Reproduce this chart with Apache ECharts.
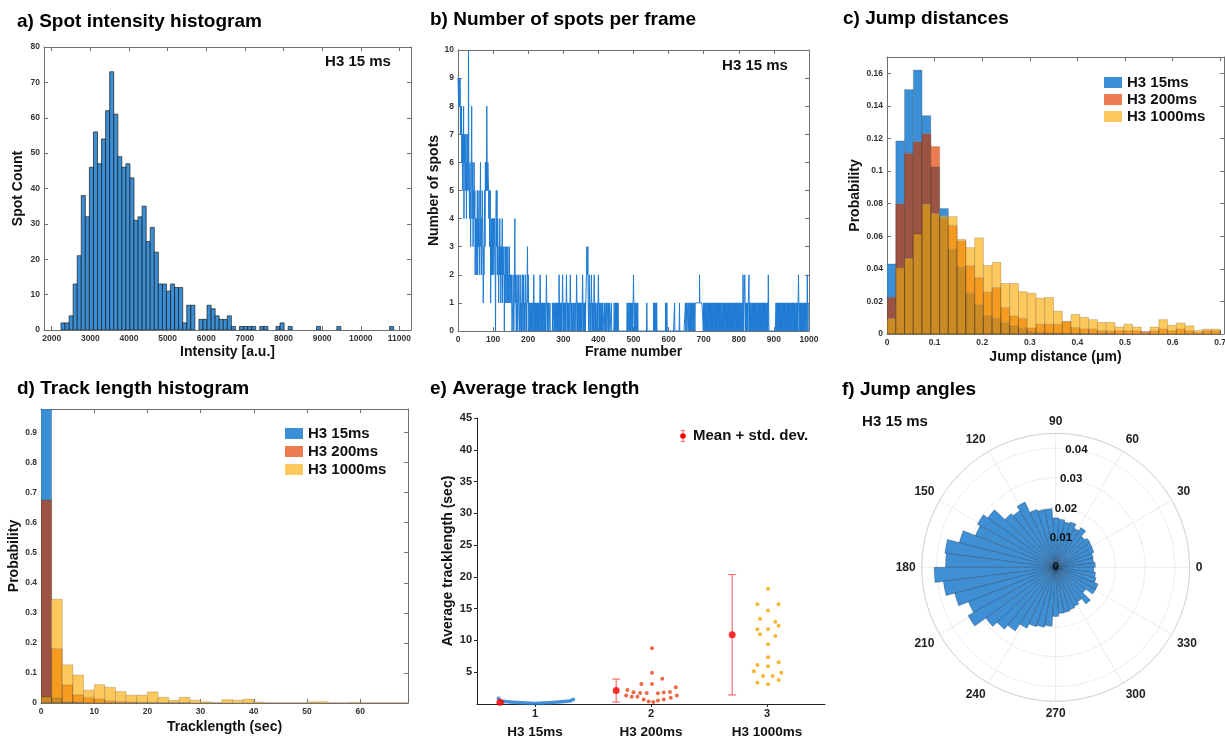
<!DOCTYPE html>
<html>
<head>
<meta charset="utf-8">
<script src="https://cdn.jsdelivr.net/npm/echarts@6/dist/echarts.min.js"></script>
<style>
  html, body { margin: 0; padding: 0; background: #fff; }
  #main { width: 1225px; height: 741px; }
</style>
</head>
<body>
<div id="main"></div>
<script>
// a) spot intensity histogram (bins start at 2240, 105 wide)
const intensityStart = 2240
const intensityBin = 105
const intensityCounts = [
  2, 2, 4, 13, 21, 38, 32, 46, 56, 47,
  54, 62, 73, 61, 49, 46, 47, 43, 31, 32,
  35, 25, 29, 22, 13, 13, 11, 13, 12, 12,
  2, 7, 7, 0, 3, 3, 7, 6, 4, 3,
  3, 4, 1, 0, 1, 1, 1, 1, 0, 1,
  1, 0, 0, 1, 2, 0, 1, 0, 0, 0,
  0, 0, 0, 1, 0, 0, 0, 0, 1, 0,
  0, 0, 0, 0, 0, 0, 0, 0, 0, 0,
  0, 1
]
const intensityTicks = [2000, 3000, 4000, 5000, 6000, 7000, 8000, 9000, 10000, 11000]

// b) number of spots per frame, frames 0..999
const spotsPerFrame = [
  9,9,8,9,9,8,9,7,8,7, 8,6,7,5,7,6,8,4,7,6, 7,5,6,7,4,6,5,7,6,5, 10,6,5,4,6,5,3,5,6,8, 4,5,6,3,5,4,6,4,5,2,
  4,3,2,4,3,5,2,4,3,4, 5,3,2,4,6,3,4,2,3,5, 4,3,1,3,2,4,5,3,6,5, 6,5,8,6,5,6,6,5,4,5, 3,4,5,1,3,2,4,3,2,4,
  3,4,2,3,4,3,2,0,4,5, 3,5,2,4,3,2,1,3,2,4, 2,3,1,2,3,2,4,1,3,2, 2,3,0,2,1,3,2,1,3,2, 1,2,3,1,2,1,3,2,1,2,
  2,1,2,1,0,0,1,2,1,0, 1,2,4,1,2,1,0,1,2,1, 0,1,2,1,1,0,1,2,1,0, 1,0,1,2,1,0,1,2,0,1, 0,1,2,1,0,1,0,2,3,1,
  2,1,0,1,0,1,1,0,1,0, 1,0,1,1,0,1,2,0,1,0, 1,0,1,0,1,1,0,1,0,1, 0,1,0,1,2,1,0,1,0,1, 0,1,0,0,1,0,1,0,1,0,
  0,1,2,1,0,1,0,0,1,0, 0,0,1,0,0,0,0,0,0,1, 0,0,0,1,0,1,0,1,1,0, 1,0,1,0,1,0,1,0,2,1, 0,1,0,1,0,1,0,1,2,1,
  0,1,0,1,1,0,1,0,1,2, 1,0,1,0,1,0,1,0,0,1, 2,1,0,1,0,1,0,0,0,1, 0,1,0,0,0,1,0,0,2,1, 0,1,0,1,1,0,1,0,1,0,
  1,0,1,0,1,2,1,0,1,0, 1,0,1,0,1,1,2,3,3,2, 3,1,0,1,2,1,0,1,0,1, 2,1,0,1,0,1,0,1,2,1, 0,1,0,1,0,0,0,1,0,1,
  2,1,0,1,0,1,0,0,1,0, 1,0,1,0,0,0,0,1,0,1, 1,0,0,1,0,0,0,1,0,1, 0,0,1,0,0,0,0,1,0,0, 0,0,0,0,0,1,0,0,1,0,
  1,0,1,0,1,0,1,0,0,0, 0,0,0,0,0,0,0,0,0,0, 0,0,0,0,0,0,0,0,0,0, 0,0,1,0,1,0,0,1,1,0, 1,0,1,0,1,1,0,1,0,1,
  2,1,1,0,1,0,1,1,0,1, 1,0,1,0,0,0,0,0,0,0, 0,0,0,0,0,0,0,0,0,0, 0,0,0,0,0,0,0,0,1,0, 0,0,0,0,0,0,0,0,0,0,
  0,0,0,0,0,0,0,1,0,1, 0,1,0,0,1,0,1,0,0,0, 0,0,0,0,0,0,0,0,0,0, 0,0,0,0,0,0,0,0,0,0, 0,1,0,1,0,1,0,0,0,0,
  0,0,0,0,0,0,0,0,0,0, 0,0,0,0,0,0,0,1,0,0, 0,0,0,0,0,0,0,0,0,0, 0,1,0,0,0,0,0,0,0,0, 0,0,0,0,0,0,0,0,1,0,
  0,1,0,0,0,1,0,0,1,0, 0,1,0,1,0,0,1,0,1,0, 1,1,0,1,1,0,1,1,1,1, 1,1,1,1,1,1,1,1,2,1, 1,1,1,1,1,1,1,1,1,0,
  1,0,1,0,1,1,0,1,0,1, 1,0,1,0,1,0,1,1,0,1, 0,1,0,1,1,0,1,0,1,0, 1,1,0,1,0,1,0,1,1,0, 1,0,1,1,0,1,0,1,0,1,
  1,0,1,1,0,1,0,1,0,1, 1,0,1,0,1,1,0,1,0,1, 0,1,1,0,1,0,1,0,1,1, 0,1,0,1,0,1,1,0,1,0, 1,1,0,1,0,1,0,1,1,0,
  1,0,1,0,1,1,0,1,0,1, 1,0,2,1,0,1,1,2,1,0, 1,0,1,1,0,1,0,1,1,2, 0,1,0,1,0,1,1,0,1,0, 1,0,1,1,0,1,0,1,0,1,
  1,0,1,0,1,1,0,1,0,1, 0,1,0,1,1,0,1,0,1,0, 1,1,0,1,0,1,0,1,1,0, 1,0,1,0,2,1,0,0,0,0, 0,0,0,0,0,0,0,0,0,0,
  0,0,0,0,0,0,1,0,1,1, 0,1,0,1,1,0,1,0,1,0, 1,1,0,1,0,1,0,1,1,0, 1,0,1,0,1,1,0,1,0,1, 1,0,1,0,1,0,1,1,0,1,
  0,1,0,1,1,0,1,0,1,0, 1,1,0,1,0,1,0,1,0,1, 2,1,0,1,1,0,1,0,1,0, 1,1,0,1,0,1,0,1,1,0, 1,0,1,1,0,2,1,0,1,1
]

// c) jump distances, 38 bins over 0..0.7 um
const seriesNames = ['H3 15ms', 'H3 200ms', 'H3 1000ms']
const jumpMax = 0.7
const jump15 = [
  0.043, 0.1185, 0.150, 0.162, 0.134, 0.1025, 0.077, 0.052, 0.041, 0.025,
  0.018, 0.011, 0.0096, 0.007, 0.005, 0.0035, 0.0016, 0.001, 0.0006, 0.0005,
  0.0005, 0.0004, 0.0003, 0.0003, 0.0002, 0.0002, 0, 0, 0, 0,
  0, 0, 0, 0, 0, 0, 0, 0
]
const jump200 = [
  0.0226, 0.080, 0.111, 0.118, 0.123, 0.115, 0.071, 0.0667, 0.057, 0.042,
  0.0345, 0.0257, 0.0285, 0.0163, 0.011, 0.0096, 0.0037, 0.006, 0.006, 0.006,
  0.0075, 0.004, 0.003, 0.003, 0.002, 0.002, 0.002, 0.002, 0.002, 0.0015,
  0.002, 0.003, 0.002, 0.003, 0.002, 0.001, 0.002, 0.002
]
const jump1000 = [
  0.0096, 0.0406, 0.0465, 0.0614, 0.0797, 0.074, 0.0726, 0.072, 0.058, 0.053,
  0.059, 0.042, 0.044, 0.031, 0.031, 0.026, 0.025, 0.022, 0.0224, 0.014,
  0.0078, 0.012, 0.0102, 0.0088, 0.0071, 0.0071, 0.0043, 0.006, 0.0043, 0.0008,
  0.0043, 0.0088, 0.0053, 0.0067, 0.005, 0.0022, 0.003, 0.003
]

// d) track length histogram, 2 s bins
const trackBin = 2
const track15 = [
  0.978, 0.017, 0.005, 0.002, 0, 0, 0, 0, 0, 0,
  0, 0, 0, 0, 0, 0, 0, 0, 0, 0,
  0, 0, 0, 0, 0, 0, 0, 0, 0, 0,
  0, 0, 0, 0, 0
]
const track200 = [
  0.675, 0.181, 0.06, 0.027, 0.019, 0.013, 0.008, 0.005, 0.003, 0.002,
  0.002, 0.001, 0.001, 0.001, 0, 0, 0, 0, 0, 0,
  0, 0, 0, 0, 0, 0, 0, 0, 0, 0,
  0, 0, 0, 0, 0
]
const track1000 = [
  0.02, 0.345, 0.127, 0.093, 0.043, 0.061, 0.052, 0.038, 0.026, 0.026,
  0.037, 0.019, 0.009, 0.019, 0.009, 0.004, 0.002, 0.011, 0.009, 0.013,
  0.003, 0.001, 0.001, 0.001, 0.001, 0.004, 0.004, 0.001, 0.001, 0.002,
  0.001, 0.001, 0.001, 0.001, 0.001
]

// e) average track length per cell, [x, y]
const avg15 = [
  [0.686, 0.85], [0.714, 0.45], [0.74, 0.40], [0.766, 0.35], [0.791, 0.30], [0.817, 0.28],
  [0.843, 0.25], [0.869, 0.20], [0.894, 0.18], [0.92, 0.15], [0.946, 0.12], [0.971, 0.10],
  [0.997, 0.08], [1.023, 0.10], [1.049, 0.12], [1.074, 0.15], [1.1, 0.18], [1.126, 0.20],
  [1.151, 0.25], [1.177, 0.28], [1.203, 0.30], [1.229, 0.35], [1.254, 0.40], [1.28, 0.45],
  [1.306, 0.50], [1.329, 0.70]
]
const avg200 = [
  [2.009, 8.77], [2.009, 4.93], [2.097, 3.99], [1.917, 3.15], [2.009, 3.15], [2.214, 2.62],
  [1.797, 2.20], [1.849, 1.85], [1.906, 1.75], [1.963, 1.75], [2.06, 1.70], [2.11, 1.80],
  [2.163, 1.90], [1.786, 1.35], [1.834, 1.15], [1.883, 1.15], [2.223, 1.35], [2.17, 1.0],
  [1.937, 0.7], [2.11, 0.7], [2.06, 0.55], [1.98, 0.4], [2.02, 0.3]
]
const avg1000 = [
  [3.009, 18.15], [2.917, 15.7], [3.1, 15.7], [3.009, 14.7], [2.94, 13.4], [3.071, 12.96],
  [3.1, 12.3], [2.917, 11.75], [3.009, 11.75], [2.94, 10.97], [3.071, 10.7], [3.009, 9.4],
  [3.009, 7.35], [3.1, 6.56], [2.917, 6.14], [3.009, 5.93], [2.886, 5.14], [3.123, 4.93],
  [2.966, 4.4], [3.049, 4.4], [2.917, 3.36], [3.1, 3.78], [3.009, 3.1]
]
const groupMean = [0.26, 2.12, 10.9]
const groupStd = [0.15, 1.8, 9.47]
const groupTicks = [1, 2, 3]

// f) jump angles, 50 bins of 7.2 degrees, counter-clockwise from 0
const angleCounts = [
  0.0133, 0.0128, 0.013, 0.0138, 0.014, 0.0143, 0.0135, 0.0158, 0.0145, 0.016,
  0.0155, 0.0162, 0.0166, 0.0197, 0.0198, 0.0204, 0.0242, 0.0225, 0.0234, 0.0282,
  0.030, 0.029, 0.0334, 0.0375, 0.037, 0.0408, 0.038, 0.035, 0.0315, 0.0336,
  0.029, 0.027, 0.0253, 0.0226, 0.021, 0.0205, 0.0198, 0.0165, 0.0155, 0.0154,
  0.015, 0.0145, 0.0137, 0.016, 0.0125, 0.0153, 0.0153, 0.014, 0.0135, 0.0128
]

const font = 'Liberation Sans, Arial, Helvetica, sans-serif'
const tickLabel = { fontSize: 8.5, fontWeight: 'bold', color: '#333', fontFamily: font }
const axisName = { fontSize: 14, fontWeight: 'bold', color: '#111', fontFamily: font }
const boxColor = '#707070'
const legendColors = ['#3b8fd7', '#ec7c50', '#fdc95c']
// fill for each overlap mask (1 = 15ms, 2 = 200ms, 4 = 1000ms)
const overlapColors = {
  1: '#3b8fd7', 2: '#ec7c50', 3: '#9b5444', 4: '#fdc95c',
  5: '#a4a866', 6: '#f49b20', 7: '#cc8a24'
}
const meanOffset = -0.3

// label only the values that sit on the tick step (hides the odd axis end)
const stepLabel = step => v => {
  const k = v / step
  return Math.abs(k - Math.round(k)) < 1e-6 ? String(+v.toFixed(4)) : ''
}

function boxAxis(gridIndex, position, min, max, opts) {
  const mirror = position === 'top' || position === 'right'
  const ax = {
    type: 'value', gridIndex, position, min, max,
    axisLine: { show: true, onZero: false, lineStyle: { color: boxColor } },
    axisTick: { show: true, inside: true, length: 4, lineStyle: { color: boxColor } },
    axisLabel: Object.assign({ show: !mirror, margin: 4, formatter: v => String(v) }, tickLabel),
    splitLine: { show: false }
  }
  if (opts.interval) {
    ax.interval = opts.interval
    ax.axisLabel.formatter = stepLabel(opts.interval)
  }
  if (opts.ticks) {
    ax.axisTick.customValues = opts.ticks
    ax.axisLabel.customValues = opts.ticks
  }
  if (!mirror && opts.name) {
    ax.name = opts.name
    ax.nameLocation = 'middle'
    ax.nameGap = opts.nameGap
    ax.nameTextStyle = axisName
  }
  return ax
}

function histRows(start, width, counts) {
  return counts.map((c, i) => [start + i * width, start + (i + 1) * width, c])
}

function overlapRows(width, a, b, c) {
  return a.map((v, i) => [i * width, (i + 1) * width, v, b[i], c[i]])
}

function renderHist(params, api) {
  const n = api.value(2)
  if (!n) return
  const p0 = api.coord([api.value(0), n])
  const p1 = api.coord([api.value(1), 0])
  return {
    type: 'rect',
    shape: { x: p0[0], y: p0[1], width: p1[0] - p0[0], height: p1[1] - p0[1] },
    style: { fill: '#3a8ed5', stroke: '#1b1b1b', lineWidth: 0.7 }
  }
}

// draws three overlapping transparent histograms as flat overlap colours
function renderOverlap(params, api) {
  const x0 = api.value(0)
  const x1 = api.value(1)
  const vals = [api.value(2), api.value(3), api.value(4)]
  const levels = [0].concat(vals.filter(v => v > 0)).sort((p, q) => p - q)
  const children = []
  for (let i = 1; i < levels.length; i++) {
    const lo = levels[i - 1]
    const hi = levels[i]
    if (hi <= lo) continue
    let mask = 0
    vals.forEach((v, k) => { if (v >= hi) mask |= 1 << k })
    const p0 = api.coord([x0, hi])
    const p1 = api.coord([x1, lo])
    children.push({
      type: 'rect',
      shape: { x: p0[0], y: p0[1], width: p1[0] - p0[0], height: p1[1] - p0[1] },
      style: { fill: overlapColors[mask] }
    })
  }
  vals.forEach(v => {
    if (v <= 0) return
    const p0 = api.coord([x0, v])
    const p1 = api.coord([x1, 0])
    children.push({
      type: 'rect',
      shape: { x: p0[0], y: p0[1], width: p1[0] - p0[0], height: p1[1] - p0[1] },
      style: { fill: null, stroke: 'rgba(50,35,20,0.28)', lineWidth: 0.7 }
    })
  })
  return { type: 'group', children }
}

function renderErrorBar(params, api) {
  const x = api.value(0) + meanOffset
  const m = api.value(1)
  const s = api.value(2)
  const top = api.coord([x, m + s])
  const bot = api.coord([x, Math.max(m - s, 0)])
  const style = { stroke: 'rgba(245,70,70,0.7)', lineWidth: 1.3 }
  return {
    type: 'group',
    children: [
      { type: 'line', shape: { x1: top[0], y1: top[1], x2: bot[0], y2: bot[1] }, style },
      { type: 'line', shape: { x1: top[0] - 4, y1: top[1], x2: top[0] + 4, y2: top[1] }, style },
      { type: 'line', shape: { x1: bot[0] - 4, y1: bot[1], x2: bot[0] + 4, y2: bot[1] }, style }
    ]
  }
}

const legendSeries = (xi, yi) => seriesNames.map((name, i) => ({
  type: 'bar', name, xAxisIndex: xi, yAxisIndex: yi, data: [],
  itemStyle: { color: legendColors[i] }
}))

const titleStyle = { fontSize: 19, fontWeight: 'bold', color: '#000', fontFamily: font }
const mk = (text, left, top) => ({ text, left, top, padding: 0, textStyle: titleStyle })

const option = {
  animation: false,
  backgroundColor: '#fff',
  title: [
    mk('a) Spot intensity histogram', 17, 12),
    mk('b) Number of spots per frame', 430, 10),
    mk('c) Jump distances', 843, 9),
    mk('d) Track length histogram', 17, 379),
    mk('e) Average track length', 430, 379),
    mk('f) Jump angles', 842, 380)
  ],
  grid: [
    { left: 44, top: 47, width: 367, height: 283, outerBoundsMode: 'none' },
    { left: 458, top: 50, width: 351, height: 281, outerBoundsMode: 'none' },
    { left: 887, top: 57, width: 337, height: 277, outerBoundsMode: 'none' },
    { left: 41, top: 409, width: 367, height: 294, outerBoundsMode: 'none' },
    { left: 477, top: 418, width: 348, height: 286, outerBoundsMode: 'none' }
  ],
  xAxis: [
    boxAxis(0, 'bottom', 1800, 11300, { ticks: intensityTicks, name: 'Intensity [a.u.]', nameGap: 15 }),
    boxAxis(0, 'top', 1800, 11300, { ticks: intensityTicks }),
    boxAxis(1, 'bottom', 0, 1000, { interval: 100, name: 'Frame number', nameGap: 13 }),
    boxAxis(1, 'top', 0, 1000, { interval: 100 }),
    boxAxis(2, 'bottom', 0, 0.708, { interval: 0.1, name: 'Jump distance (μm)', nameGap: 16 }),
    boxAxis(2, 'top', 0, 0.708, { interval: 0.1 }),
    boxAxis(3, 'bottom', 0, 69, { interval: 10, name: 'Tracklength (sec)', nameGap: 17 }),
    boxAxis(3, 'top', 0, 69, { interval: 10 }),
    {
      type: 'value', gridIndex: 4, min: 0.5, max: 3.5,
      axisLine: { show: true, lineStyle: { color: '#222' } },
      axisTick: { show: true, length: 3, customValues: groupTicks, lineStyle: { color: '#222' } },
      axisLabel: {
        customValues: groupTicks, margin: 3,
        formatter: v => '{n|' + v + '}\n{c|' + seriesNames[v - 1] + '}',
        rich: {
          n: { fontSize: 11, fontWeight: 'bold', color: '#222', fontFamily: font, lineHeight: 14 },
          c: { fontSize: 13.5, fontWeight: 'bold', color: '#111', fontFamily: font, lineHeight: 22 }
        }
      },
      splitLine: { show: false }
    }
  ],
  yAxis: [
    boxAxis(0, 'left', 0, 80, { interval: 10, name: 'Spot Count', nameGap: 19 }),
    boxAxis(0, 'right', 0, 80, { interval: 10 }),
    boxAxis(1, 'left', 0, 10, { interval: 1, name: 'Number of spots', nameGap: 15 }),
    boxAxis(1, 'right', 0, 10, { interval: 1 }),
    boxAxis(2, 'left', 0, 0.17, { interval: 0.02, name: 'Probability', nameGap: 22 }),
    boxAxis(2, 'right', 0, 0.17, { interval: 0.02 }),
    boxAxis(3, 'left', 0, 0.978, { interval: 0.1, name: 'Probability', nameGap: 19 }),
    boxAxis(3, 'right', 0, 0.978, { interval: 0.1 }),
    {
      type: 'value', gridIndex: 4, min: 0, max: 45, interval: 5,
      name: 'Average tracklength (sec)', nameLocation: 'middle', nameGap: 22, nameTextStyle: axisName,
      axisLine: { show: true, lineStyle: { color: '#222' } },
      axisTick: { show: true, length: 3, lineStyle: { color: '#222' } },
      axisLabel: { showMinLabel: false, margin: 5, fontSize: 11, fontWeight: 'bold', color: '#222', fontFamily: font },
      splitLine: { show: false }
    }
  ],
  polar: [
    { center: [1055.7, 567.3], radius: 134 },
    { center: [1055.7, 567.3], radius: 134 },
    { center: [1055.7, 567.3], radius: 134 }
  ],
  angleAxis: [
    {
      polarIndex: 0, type: 'category', data: angleCounts.map((_, i) => String(i)),
      startAngle: 0, clockwise: false, boundaryGap: true,
      axisLine: { show: false }, axisTick: { show: false }, axisLabel: { show: false }, splitLine: { show: false }
    },
    {
      polarIndex: 1, type: 'value', min: 0, max: 360, interval: 30, startAngle: 0, clockwise: false, z: 1,
      axisLine: { show: true, lineStyle: { color: '#d4d4d4' } },
      axisTick: { show: false },
      axisLabel: {
        margin: 6, fontSize: 12, fontWeight: 'bold', color: '#222', fontFamily: font,
        formatter: v => (v === 360 ? '' : String(v))
      },
      splitLine: { show: true, lineStyle: { color: '#d8d8d8', type: 'dotted' } }
    },
    {
      polarIndex: 2, type: 'value', min: 0, max: 360, startAngle: 80, clockwise: false,
      axisLine: { show: false }, axisTick: { show: false }, axisLabel: { show: false }, splitLine: { show: false }
    }
  ],
  radiusAxis: [
    {
      polarIndex: 0, min: 0, max: 0.045,
      axisLine: { show: false }, axisTick: { show: false }, axisLabel: { show: false }, splitLine: { show: false }
    },
    {
      polarIndex: 1, min: 0, max: 0.045, interval: 0.01, z: 1,
      axisLine: { show: false }, axisTick: { show: false }, axisLabel: { show: false },
      splitLine: { show: true, lineStyle: { color: '#d8d8d8', type: 'dotted' } }
    },
    {
      polarIndex: 2, min: 0, max: 0.045, interval: 0.01, z: 10,
      axisLine: { show: false }, axisTick: { show: false }, splitLine: { show: false },
      axisLabel: {
        margin: 0, align: 'center', verticalAlign: 'middle', showMaxLabel: false,
        fontSize: 11.5, fontWeight: 'bold', color: '#111', fontFamily: font,
        formatter: stepLabel(0.01)
      }
    }
  ],
  legend: [
    {
      data: seriesNames, orient: 'vertical', left: 1104, top: 75, padding: 0,
      itemWidth: 18, itemHeight: 11, itemGap: 2, icon: 'rect', selectedMode: false,
      textStyle: { fontSize: 15, fontWeight: 'bold', color: '#111', fontFamily: font }
    },
    {
      data: seriesNames, orient: 'vertical', left: 285, top: 426, padding: 0,
      itemWidth: 18, itemHeight: 11, itemGap: 3, icon: 'rect', selectedMode: false,
      textStyle: { fontSize: 15, fontWeight: 'bold', color: '#111', fontFamily: font }
    }
  ],
  graphic: [
    { type: 'text', x: 358, y: 62, style: { text: 'H3 15 ms', fontSize: 15, fontWeight: 'bold', fontFamily: font, fill: '#111', align: 'center', verticalAlign: 'middle' } },
    { type: 'text', x: 755, y: 66, style: { text: 'H3 15 ms', fontSize: 15, fontWeight: 'bold', fontFamily: font, fill: '#111', align: 'center', verticalAlign: 'middle' } },
    { type: 'text', x: 895, y: 422, style: { text: 'H3 15 ms', fontSize: 15, fontWeight: 'bold', fontFamily: font, fill: '#111', align: 'center', verticalAlign: 'middle' } },
    {
      type: 'group', x: 683, y: 436,
      children: [
        { type: 'line', shape: { x1: 0, y1: -5.5, x2: 0, y2: 5.5 }, style: { stroke: 'rgba(245,70,70,0.7)', lineWidth: 1.2 } },
        { type: 'line', shape: { x1: -2, y1: -5.5, x2: 2, y2: -5.5 }, style: { stroke: 'rgba(245,70,70,0.7)', lineWidth: 1.2 } },
        { type: 'line', shape: { x1: -2, y1: 5.5, x2: 2, y2: 5.5 }, style: { stroke: 'rgba(245,70,70,0.7)', lineWidth: 1.2 } },
        { type: 'circle', shape: { cx: 0, cy: 0, r: 2.8 }, style: { fill: '#ff0000' } },
        { type: 'text', x: 10, y: 0, style: { text: 'Mean + std. dev.', fontSize: 15, fontWeight: 'bold', fontFamily: font, fill: '#111', verticalAlign: 'middle' } }
      ]
    }
  ],
  series: [
    {
      type: 'custom', xAxisIndex: 0, yAxisIndex: 0, clip: true,
      data: histRows(intensityStart, intensityBin, intensityCounts),
      renderItem: renderHist
    },
    {
      type: 'line', xAxisIndex: 2, yAxisIndex: 2, step: 'end', symbol: 'none',
      data: spotsPerFrame.map((v, i) => [i, v]),
      lineStyle: { color: '#1f7bd3', width: 1 }
    },
    {
      type: 'custom', xAxisIndex: 4, yAxisIndex: 4, clip: true,
      data: overlapRows(jumpMax / jump15.length, jump15, jump200, jump1000),
      renderItem: renderOverlap
    },
    ...legendSeries(4, 4),
    {
      type: 'custom', xAxisIndex: 6, yAxisIndex: 6, clip: true,
      data: overlapRows(trackBin, track15, track200, track1000),
      renderItem: renderOverlap
    },
    ...legendSeries(6, 6),
    {
      type: 'scatter', xAxisIndex: 8, yAxisIndex: 8, symbolSize: 4,
      data: avg15, itemStyle: { color: '#1f78d0' }
    },
    {
      type: 'scatter', xAxisIndex: 8, yAxisIndex: 8, symbolSize: 4,
      data: avg200, itemStyle: { color: '#e8441a' }
    },
    {
      type: 'scatter', xAxisIndex: 8, yAxisIndex: 8, symbolSize: 4,
      data: avg1000, itemStyle: { color: '#f5a300' }
    },
    {
      type: 'custom', xAxisIndex: 8, yAxisIndex: 8,
      data: groupMean.map((m, i) => [groupTicks[i], m, groupStd[i]]),
      renderItem: renderErrorBar
    },
    {
      type: 'scatter', xAxisIndex: 8, yAxisIndex: 8, symbolSize: 7, z: 5,
      data: groupMean.map((m, i) => [groupTicks[i] + meanOffset, m]),
      itemStyle: { color: '#ff0000' }
    },
    {
      type: 'bar', coordinateSystem: 'polar', polarIndex: 0, barCategoryGap: '0%',
      data: angleCounts, z: 3,
      itemStyle: { color: '#3f8fd4', borderColor: 'rgba(25,45,75,0.55)', borderWidth: 0.6 }
    }
  ]
}

const chart = echarts.init(document.getElementById('main'))
chart.setOption(option)
</script>
</body>
</html>
